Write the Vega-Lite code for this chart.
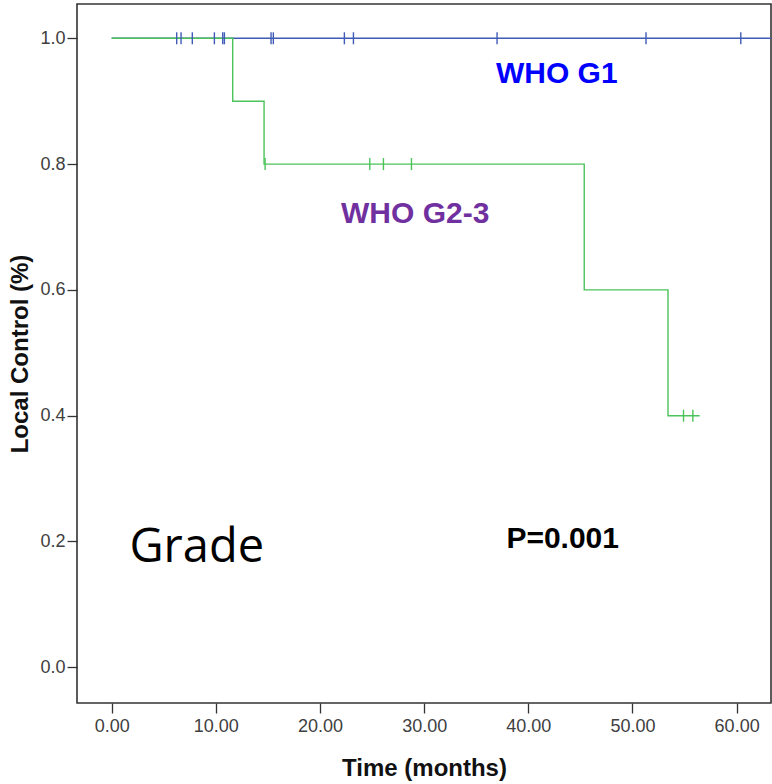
{
  "$schema": "https://vega.github.io/schema/vega-lite/v6.json",
  "width": 694,
  "height": 699,
  "autosize": {"type": "none"},
  "padding": {"left": 77, "top": 4, "right": 1, "bottom": 81},
  "background": "white",
  "config": {
    "view": {"stroke": "#333333", "strokeWidth": 1.6},
    "font": "Liberation Sans"
  },
  "datasets": {
    "curves": [
      {"group": "WHO G1", "time": 0, "surv": 1.0},
      {"group": "WHO G1", "time": 64, "surv": 1.0},
      {"group": "WHO G2-3", "time": 0, "surv": 1.0},
      {"group": "WHO G2-3", "time": 11.62, "surv": 0.9},
      {"group": "WHO G2-3", "time": 14.63, "surv": 0.8},
      {"group": "WHO G2-3", "time": 45.37, "surv": 0.6},
      {"group": "WHO G2-3", "time": 53.41, "surv": 0.4},
      {"group": "WHO G2-3", "time": 56.45, "surv": 0.4}
    ],
    "censored": [
      {"group": "WHO G1", "time": 6.24, "surv": 1.0},
      {"group": "WHO G1", "time": 6.66, "surv": 1.0},
      {"group": "WHO G1", "time": 7.74, "surv": 1.0},
      {"group": "WHO G1", "time": 9.86, "surv": 1.0},
      {"group": "WHO G1", "time": 10.66, "surv": 1.0},
      {"group": "WHO G1", "time": 10.82, "surv": 1.0},
      {"group": "WHO G1", "time": 15.3, "surv": 1.0},
      {"group": "WHO G1", "time": 15.52, "surv": 1.0},
      {"group": "WHO G1", "time": 22.34, "surv": 1.0},
      {"group": "WHO G1", "time": 23.21, "surv": 1.0},
      {"group": "WHO G1", "time": 37.0, "surv": 1.0},
      {"group": "WHO G1", "time": 51.3, "surv": 1.0},
      {"group": "WHO G1", "time": 60.4, "surv": 1.0},
      {"group": "WHO G2-3", "time": 14.73, "surv": 0.8},
      {"group": "WHO G2-3", "time": 24.78, "surv": 0.8},
      {"group": "WHO G2-3", "time": 26.09, "surv": 0.8},
      {"group": "WHO G2-3", "time": 28.78, "surv": 0.8},
      {"group": "WHO G2-3", "time": 54.9, "surv": 0.4},
      {"group": "WHO G2-3", "time": 55.8, "surv": 0.4}
    ],
    "labels": [
      {"key": "WHO G1", "text": "WHO G1", "time": 42.73, "surv": 0.9285},
      {"key": "WHO G2-3", "text": "WHO G2-3", "time": 29.14, "surv": 0.7059},
      {"key": "P", "text": "P=0.001", "time": 43.3, "surv": 0.1892}
    ],
    "title": [
      {"text": "Grade", "time": 1.7, "surv": 0.167}
    ]
  },
  "layer": [
    {
      "data": {"name": "curves"},
      "transform": [{"filter": "datum.group === 'WHO G1'"}],
      "mark": {"type": "line", "interpolate": "step-after", "color": "#3f5bb5", "strokeWidth": 1.4, "clip": true},
      "encoding": {
        "x": {
          "field": "time", "type": "quantitative",
          "scale": {"domain": [-3.33, 63.3], "nice": false, "zero": false},
          "axis": {
            "values": [0, 10, 20, 30, 40, 50, 60], "format": ".2f",
            "grid": false, "domain": false, "tickSize": 10, "tickColor": "#333333", "tickWidth": 1.3,
            "labelFontSize": 18, "labelColor": "#404040", "labelPadding": 4, "labelFont": "Liberation Sans",
            "title": "Time (months)", "titleFontSize": 24, "titleFontWeight": "bold", "titleColor": "#111111",
            "titleFont": "Liberation Sans", "titleBaseline": "alphabetic", "titleY": 72
          }
        },
        "y": {
          "field": "surv", "type": "quantitative",
          "scale": {"domain": [-0.0568, 1.0545], "nice": false, "zero": false},
          "axis": {
            "values": [0, 0.2, 0.4, 0.6, 0.8, 1.0], "format": ".1f",
            "grid": false, "domain": false, "tickSize": 10, "tickColor": "#333333", "tickWidth": 1.3,
            "labelFontSize": 18, "labelColor": "#404040", "labelPadding": 2, "labelFont": "Liberation Sans",
            "title": "Local Control (%)", "titleFontSize": 24, "titleFontWeight": "bold", "titleColor": "#111111",
            "titleFont": "Liberation Sans", "titleBaseline": "alphabetic", "titleX": -50
          }
        }
      }
    },
    {
      "data": {"name": "curves"},
      "transform": [{"filter": "datum.group === 'WHO G2-3'"}],
      "mark": {"type": "line", "interpolate": "step-after", "color": "#4cc35a", "strokeWidth": 1.4, "clip": true},
      "encoding": {
        "x": {"field": "time", "type": "quantitative"},
        "y": {"field": "surv", "type": "quantitative"}
      }
    },
    {
      "data": {"name": "censored"},
      "mark": {"type": "point", "shape": "M0,-1L0,1", "size": 144, "filled": false, "strokeWidth": 1.4, "opacity": 1},
      "encoding": {
        "x": {"field": "time", "type": "quantitative"},
        "y": {"field": "surv", "type": "quantitative"},
        "color": {
          "field": "group", "type": "nominal",
          "scale": {"domain": ["WHO G1", "WHO G2-3"], "range": ["#3f5bb5", "#4cc35a"]},
          "legend": null
        }
      }
    },
    {
      "data": {"name": "labels"},
      "mark": {"type": "text", "fontSize": 30, "fontWeight": "bold", "font": "Liberation Sans", "align": "center", "baseline": "alphabetic"},
      "encoding": {
        "x": {"field": "time", "type": "quantitative"},
        "y": {"field": "surv", "type": "quantitative"},
        "text": {"field": "text", "type": "nominal"},
        "color": {
          "field": "key", "type": "nominal",
          "scale": {"domain": ["WHO G1", "WHO G2-3", "P"], "range": ["#0000ff", "#7030a0", "#000000"]},
          "legend": null
        }
      }
    },
    {
      "data": {"name": "title"},
      "mark": {"type": "text", "fontSize": 47, "font": "Open Sans", "align": "left", "baseline": "alphabetic", "color": "#000000"},
      "encoding": {
        "x": {"field": "time", "type": "quantitative"},
        "y": {"field": "surv", "type": "quantitative"},
        "text": {"field": "text", "type": "nominal"}
      }
    }
  ],
  "resolve": {"scale": {"color": "independent"}}
}
